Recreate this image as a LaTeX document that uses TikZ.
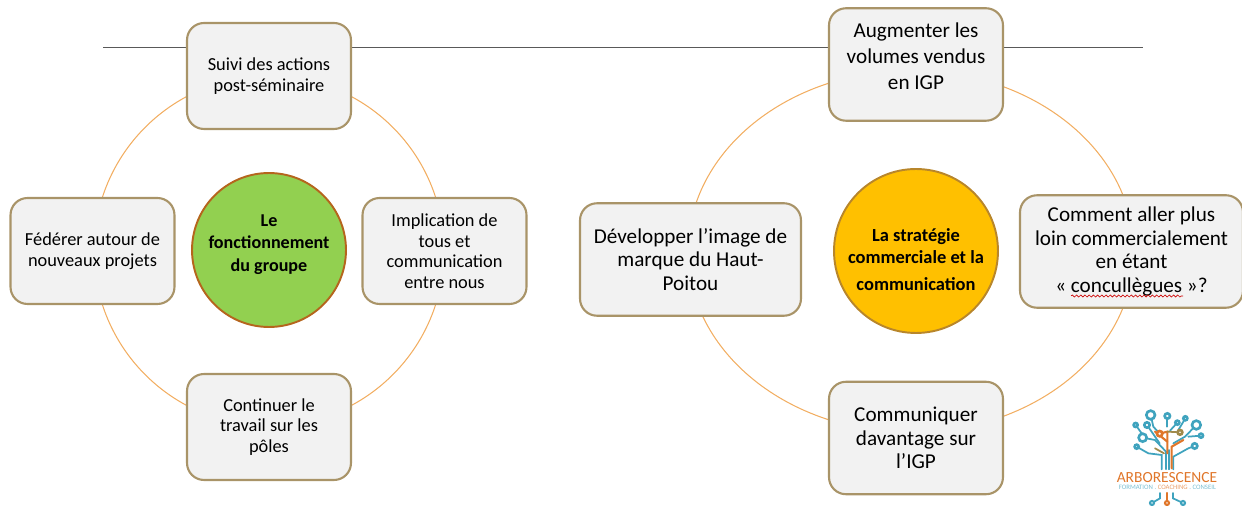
\documentclass[tikz,border=0pt]{standalone}
\usepackage{fontspec}
\setmainfont{Carlito}
\usetikzlibrary{positioning, decorations.pathmorphing}
\definecolor{boxfill}{HTML}{F2F2F2}
\definecolor{boxedge}{HTML}{A99468}
\definecolor{ringorange}{HTML}{F2AE62}
\definecolor{ballgreen}{HTML}{92D050}
\definecolor{ballyellow}{HTML}{FFC000}
\definecolor{balledge}{HTML}{B5651D}
\definecolor{ballgold}{HTML}{B8862B}
\definecolor{logoteal}{HTML}{3FA3BE}
\definecolor{logoorange}{HTML}{E0762A}
\definecolor{logoolive}{HTML}{A08A4A}
\tikzset{
    smallbox/.style={draw=boxedge, fill=boxfill, line width=1.2pt, rounded corners=0.34cm,
        minimum width=3.28cm, minimum height=2.12cm, align=center, inner sep=0pt,
        font=\fontsize{10.45}{11.7}\selectfont},
    bigbox/.style={smallbox, minimum height=2.25cm,
        font=\fontsize{12.05}{13.4}\selectfont},
    ball/.style={circle, draw=balledge, line width=1.1pt, align=center, inner sep=0pt,
        font=\bfseries\fontsize{10.3}{12.8}\selectfont},
    ring/.style={draw=ringorange, line width=0.6pt},
    logoline/.style={line width=1pt, line cap=round},
}
\begin{document}
\begin{tikzpicture}[x=0.02cm, y=-0.02cm]
    \useasboundingbox (0,0) rectangle (1242,506);
    \clip (0,0) rectangle (1242,506);

    % rule and rings behind the boxes
    \coordinate (ruleL) at (103,47);
    \coordinate (ruleR) at (1143,47);
    \draw[color=black!65, line width=0.45pt] (ruleL) -- (ruleR);
    \draw[ring] (269,251) circle [x radius=175, y radius=175];
    \draw[ring] (911,251.5) circle [x radius=223, y radius=181];

    % left group
    \node[ball, fill=ballgreen, minimum size=3.08cm] (groupe) at (269,250) {Le\\fonctionnement\\du groupe\\[-4.5pt]\mbox{}};
    \node[smallbox] (suivi) at (269,76) {Suivi des actions\\post-séminaire};
    \node[smallbox] (federer) at (92.5,251) {Fédérer autour de\\nouveaux projets};
    \node[smallbox] (implication) at (444.5,251) {Implication de\\tous et\\communication\\entre nous};
    \node[smallbox] (continuer) at (269,427) {Continuer le\\travail sur les\\pôles};

    % right group
    \node[ball, draw=ballgold, fill=ballyellow, minimum size=3.28cm, font=\bfseries\fontsize{10.5}{12.5}\selectfont] (strategie) at (916,251) {\mbox{}\\[4.5pt]La stratégie\\commerciale et la\\[2.8pt]communication};
    \node[bigbox, minimum width=3.48cm, font=\fontsize{12.05}{14.8}\selectfont] (augmenter) at (916,64.5) {Augmenter les\\volumes vendus\\en IGP\\[-5.7pt]\mbox{}};
    \node[bigbox, minimum width=4.42cm] (image) at (690.5,259.5) {Développer l’image de\\marque du Haut-\\Poitou};
    \node[bigbox, minimum width=4.46cm] (comment) at (1131.5,251.5) {Comment aller plus\\loin commercialement\\en étant\\« concullègues »?};
    \node[bigbox, minimum width=3.48cm] (communiquer) at (916,438) {Communiquer\\davantage sur\\l’IGP};

    % spell check mark
    \coordinate (wavyL) at (1071,296);
    \coordinate (wavyR) at (1183,296);
    \draw[red!80!black, line width=0.35pt, decorate, decoration={snake, amplitude=0.6pt, segment length=2.4pt}] (wavyL) -- (wavyR);

    % logo
    \begin{scope}[shift={(1090,390)}, x=0.00667cm, y=-0.00667cm]
        \draw[logoline, logoteal] (228,238) -- (228,185) -- (195,150) -- (158,143);
        \draw[logoline, logoteal] (238,238) -- (238,180);
        \draw[logoline, logoteal] (250,238) -- (250,200) -- (295,175) -- (314,168);
        \draw[logoline, logoteal] (215,238) -- (215,195) -- (175,190) -- (140,170);
        \draw[logoline, logoteal] (182,75) -- (190,110) -- (209,131);
        \draw[logoline, logoteal] (171,105) -- (209,160);
        \draw[logoline, logoteal] (137,105) -- (155,130);
        \draw[logoline, logoteal] (232,78) -- (232,110);
        \draw[logoline, logoteal] (286,85) -- (262,125);
        \draw[logoline, logoteal] (262,98) -- (240,122);
        \draw[logoline, logoteal] (319,105) -- (285,140) -- (250,160);
        \draw[logoline, logoteal] (333,137) -- (295,140);
        \draw[logoline, logoorange, line width=1.2pt] (232,190) -- (232,125) -- (209,131);
        \draw[logoline, logoorange, line width=1.2pt] (232,155) -- (195,125);
        \draw[logoline, logoorange, line width=1.2pt] (245,235) -- (245,170) -- (280,150);
        \draw[logoline, logoolive] (232,125) -- (270,127);
        \draw[logoline, logoolive] (222,190) -- (195,175);
        \foreach \cx/\cy/\cr/\ccol in {182/75/13/logoteal, 232/78/8/logoteal, 286/85/6/logoteal, 137/105/6/logoteal,
            171/105/8/logoteal, 262/98/6/logoteal, 319/105/13/logoteal, 333/137/6/logoteal, 158/143/12/logoteal,
            209/131/8/logoorange, 270/127/7/logoolive, 140/170/6/logoteal, 314/168/8/logoteal}
            \draw[\ccol, line width=1.5pt, fill=white] (\cx,\cy) circle [radius=\cr];
        \node[text=logoorange, inner sep=0pt, font=\fontsize{8.8}{9}\selectfont] (logoname) at (231,263) {ARBORESCENCE};
        \node[text=logoteal!70, inner sep=0pt, font=\fontsize{3.85}{4}\selectfont] (logotag) at (232,293) {FORMATION . \textcolor{logoorange!70}{COACHING} . CONSEIL};
        \draw[logoline, logoteal] (186,339) -- (210,325) -- (210,309);
        \draw[logoline, logoorange, line width=1.2pt] (231,309) -- (231,339);
        \draw[logoline, logoteal] (249,309) -- (249,325) -- (279,339);
        \foreach \cx/\cy/\ccol in {186/339/logoteal, 231/339/logoorange, 279/339/logoteal}
            \draw[\ccol, line width=1.2pt, fill=white] (\cx,\cy) circle [radius=6];
    \end{scope}
\end{tikzpicture}
\end{document}
